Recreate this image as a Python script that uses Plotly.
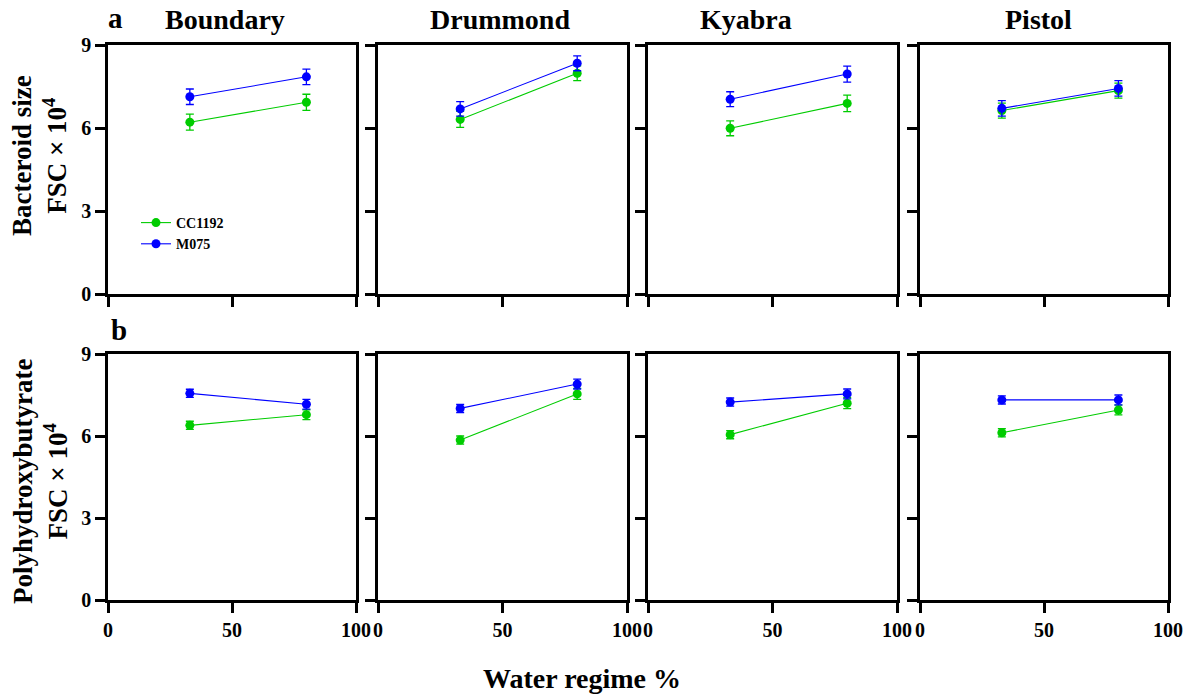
import plotly.graph_objects as go

W, H = 1192, 695

cultivars = ["Boundary", "Drummond", "Kyabra", "Pistol"]
water = [33, 80]

# Row a: Bacteroid size (FSC x 10^4)
size_cc1192 = [[6.21, 6.93], [6.31, 7.98], [5.99, 6.89], [6.63, 7.35]]
size_cc1192_err = [[0.29, 0.29], [0.29, 0.27], [0.27, 0.30], [0.27, 0.27]]
size_m075 = [[7.13, 7.85], [6.69, 8.34], [7.04, 7.95], [6.71, 7.43]]
size_m075_err = [[0.28, 0.28], [0.26, 0.27], [0.27, 0.29], [0.28, 0.28]]

# Row b: Polyhydroxybutyrate (FSC x 10^4)
phb_cc1192 = [[6.39, 6.78], [5.85, 7.54], [6.05, 7.20], [6.12, 6.95]]
phb_cc1192_err = [[0.15, 0.18], [0.15, 0.20], [0.15, 0.20], [0.15, 0.18]]
phb_m075 = [[7.56, 7.16], [7.01, 7.90], [7.24, 7.54], [7.32, 7.32]]
phb_m075_err = [[0.15, 0.18], [0.15, 0.18], [0.15, 0.18], [0.15, 0.18]]

x_ticks = [0, 50, 100]
y_ticks = [0, 3, 6, 9]

GREEN = "rgb(0,204,0)"
BLUE = "rgb(0,0,255)"
FONT = "Liberation Serif"

col_px = [(108, 356), (378, 627), (648, 897), (920, 1168)]
row_px = [(45, 294), (354, 600)]

fig = go.Figure()

rows_data = [
    (size_cc1192, size_cc1192_err, size_m075, size_m075_err),
    (phb_cc1192, phb_cc1192_err, phb_m075, phb_m075_err),
]

axis_common = dict(
    showline=True, linecolor="black", linewidth=2.5, mirror=True,
    ticks="outside", ticklen=10, tickwidth=2.5, tickcolor="black",
    showgrid=False, zeroline=False, automargin=False,
    tickfont=dict(family=FONT, size=20, color="black", weight="bold"),
)

n = 0
for r, (cc, cce, m, me) in enumerate(rows_data):
    for c in range(4):
        n += 1
        xa = "x" if n == 1 else f"x{n}"
        ya = "y" if n == 1 else f"y{n}"
        for vals, errs, name, color in [(cc, cce, "CC1192", GREEN), (m, me, "M075", BLUE)]:
            fig.add_trace(go.Scatter(
                x=water, y=vals[c], xaxis=xa, yaxis=ya,
                mode="lines+markers", name=name,
                line=dict(color=color, width=1.1),
                marker=dict(color=color, size=9, symbol="circle"),
                error_y=dict(type="data", array=errs[c], color=color,
                             thickness=1.3, width=4),
                showlegend=(n == 1), legendgroup=name,
            ))
        x0, x1 = col_px[c]
        y0, y1 = row_px[r]
        xkey = "xaxis" if n == 1 else f"xaxis{n}"
        ykey = "yaxis" if n == 1 else f"yaxis{n}"
        fig.layout[xkey] = dict(
            axis_common, domain=[x0 / W, x1 / W], range=[0, 100],
            anchor=ya, tickvals=x_ticks, showticklabels=(r == 1),
            tickmode="array",
        )
        fig.layout[ykey] = dict(
            axis_common, domain=[1 - y1 / H, 1 - y0 / H], range=[0, 9],
            anchor=xa, tickvals=y_ticks, showticklabels=(c == 0),
            tickmode="array",
        )

annotations = []
title_x = [225, 500, 746, 1038]
for name, tx in zip(cultivars, title_x):
    annotations.append(dict(
        text=name, x=tx / W, y=1 - 19 / H, xref="paper", yref="paper",
        showarrow=False, xanchor="center", yanchor="middle",
        font=dict(family=FONT, size=28, color="black", weight="bold"),
    ))
annotations.append(dict(text="a", x=115 / W, y=1 - 18 / H, xref="paper", yref="paper",
                        showarrow=False, xanchor="center", yanchor="middle",
                        font=dict(family=FONT, size=29, color="black", weight="bold")))
annotations.append(dict(text="b", x=119 / W, y=1 - 330 / H, xref="paper", yref="paper",
                        showarrow=False, xanchor="center", yanchor="middle",
                        font=dict(family=FONT, size=29, color="black", weight="bold")))
annotations.append(dict(text="Bacteroid size<br>FSC × 10<sup>4</sup>", x=40 / W,
                        y=1 - 156 / H, xref="paper", yref="paper", textangle=-90,
                        showarrow=False, xanchor="center", yanchor="middle",
                        font=dict(family=FONT, size=27, color="black", weight="bold")))
annotations.append(dict(text="Polyhydroxybutyrate<br>FSC × 10<sup>4</sup>", x=40 / W,
                        y=1 - 481 / H, xref="paper", yref="paper", textangle=-90,
                        showarrow=False, xanchor="center", yanchor="middle",
                        font=dict(family=FONT, size=27, color="black", weight="bold")))
annotations.append(dict(text="Water regime %", x=582 / W, y=1 - 678 / H,
                        xref="paper", yref="paper", showarrow=False,
                        xanchor="center", yanchor="middle",
                        font=dict(family=FONT, size=28, color="black", weight="bold")))

fig.update_layout(
    width=W, height=H,
    margin=dict(l=0, r=0, t=0, b=0, pad=0, autoexpand=False),
    paper_bgcolor="white", plot_bgcolor="white",
    annotations=annotations,
    legend=dict(x=136 / W, y=1 - 207 / H, xanchor="left", yanchor="top",
                bgcolor="rgba(0,0,0,0)", borderwidth=0, tracegroupgap=0,
                font=dict(family=FONT, size=14, color="black", weight="bold"),
                itemwidth=30),
)

fig.write_html("out.html")
